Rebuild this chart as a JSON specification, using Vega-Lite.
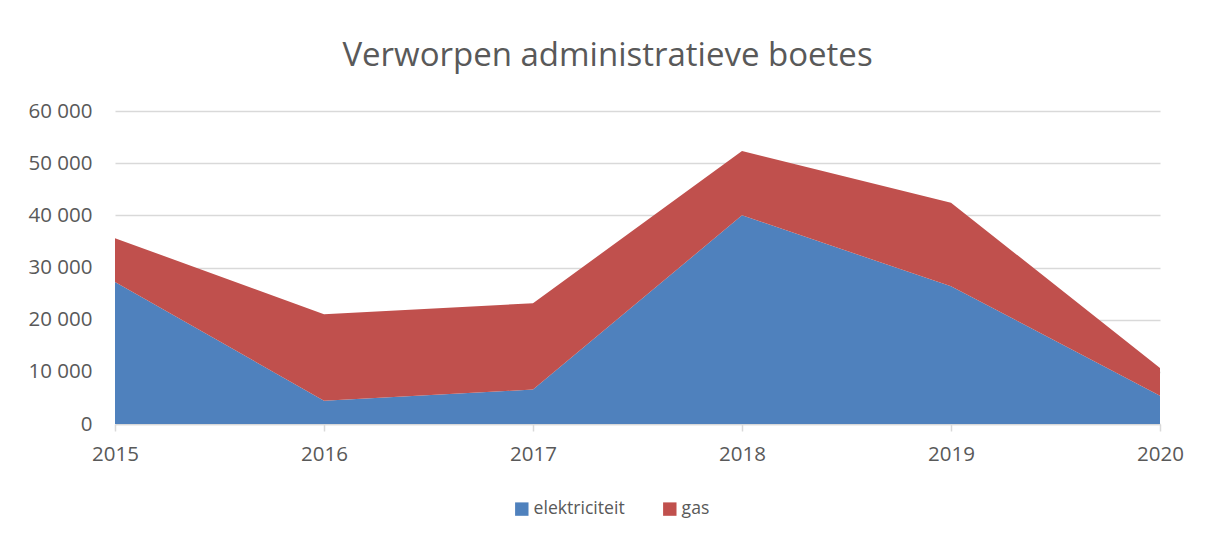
{
  "$schema": "https://vega.github.io/schema/vega-lite/v6.json",
  "width": 1045,
  "height": 313,
  "autosize": {"type": "none"},
  "padding": {"left": 115, "top": 111, "right": 48, "bottom": 114},
  "background": "white",
  "title": {
    "text": "Verworpen administratieve boetes",
    "anchor": "middle",
    "frame": "group",
    "dx": -30,
    "offset": 28,
    "font": "Open Sans",
    "fontSize": 33,
    "fontWeight": "normal",
    "color": "#595959"
  },
  "data": {
    "values": [
      {"jaar": 2015, "soort": "elektriciteit", "waarde": 27200},
      {"jaar": 2016, "soort": "elektriciteit", "waarde": 4470},
      {"jaar": 2017, "soort": "elektriciteit", "waarde": 6600},
      {"jaar": 2018, "soort": "elektriciteit", "waarde": 40000},
      {"jaar": 2019, "soort": "elektriciteit", "waarde": 26400},
      {"jaar": 2020, "soort": "elektriciteit", "waarde": 5430},
      {"jaar": 2015, "soort": "gas", "waarde": 8420},
      {"jaar": 2016, "soort": "gas", "waarde": 16570},
      {"jaar": 2017, "soort": "gas", "waarde": 16550},
      {"jaar": 2018, "soort": "gas", "waarde": 12320},
      {"jaar": 2019, "soort": "gas", "waarde": 16020},
      {"jaar": 2020, "soort": "gas", "waarde": 5320}
    ]
  },
  "mark": {"type": "area", "opacity": 1},
  "encoding": {
    "x": {
      "field": "jaar",
      "type": "quantitative",
      "scale": {"domain": [2015, 2020], "nice": false, "zero": false},
      "axis": {
        "title": null,
        "values": [2015, 2016, 2017, 2018, 2019, 2020],
        "format": "d",
        "grid": false,
        "domainColor": "#d9d9d9",
        "domainWidth": 1.5,
        "tickColor": "#d9d9d9",
        "tickWidth": 1.5,
        "tickSize": 7,
        "labelPadding": 13,
        "labelFont": "Open Sans",
        "labelFontSize": 20.5,
        "labelColor": "#595959",
        "labelFlush": false,
        "labelOverlap": false
      }
    },
    "y": {
      "field": "waarde",
      "type": "quantitative",
      "stack": "zero",
      "scale": {"domain": [0, 60000], "nice": false},
      "axis": {
        "title": null,
        "values": [0, 10000, 20000, 30000, 40000, 50000, 60000],
        "labelExpr": "replace(format(datum.value, ','), ',', ' ')",
        "domain": false,
        "ticks": false,
        "labelPadding": 23,
        "gridColor": "#d9d9d9",
        "gridWidth": 1.5,
        "labelFont": "Open Sans",
        "labelFontSize": 20.5,
        "labelColor": "#595959"
      }
    },
    "color": {
      "field": "soort",
      "type": "nominal",
      "scale": {"domain": ["elektriciteit", "gas"], "range": ["#4f81bd", "#c0504d"]},
      "legend": {
        "title": null,
        "orient": "none",
        "direction": "horizontal",
        "legendX": 398,
        "legendY": 389,
        "symbolType": "square",
        "symbolSize": 180,
        "symbolOpacity": 1,
        "symbolStrokeWidth": 0,
        "labelFont": "Open Sans",
        "labelFontSize": 17.6,
        "labelColor": "#595959",
        "labelOffset": 3,
        "columnPadding": 36
      }
    },
    "order": {"field": "soort", "sort": "ascending"}
  },
  "config": {"view": {"stroke": null}}
}
